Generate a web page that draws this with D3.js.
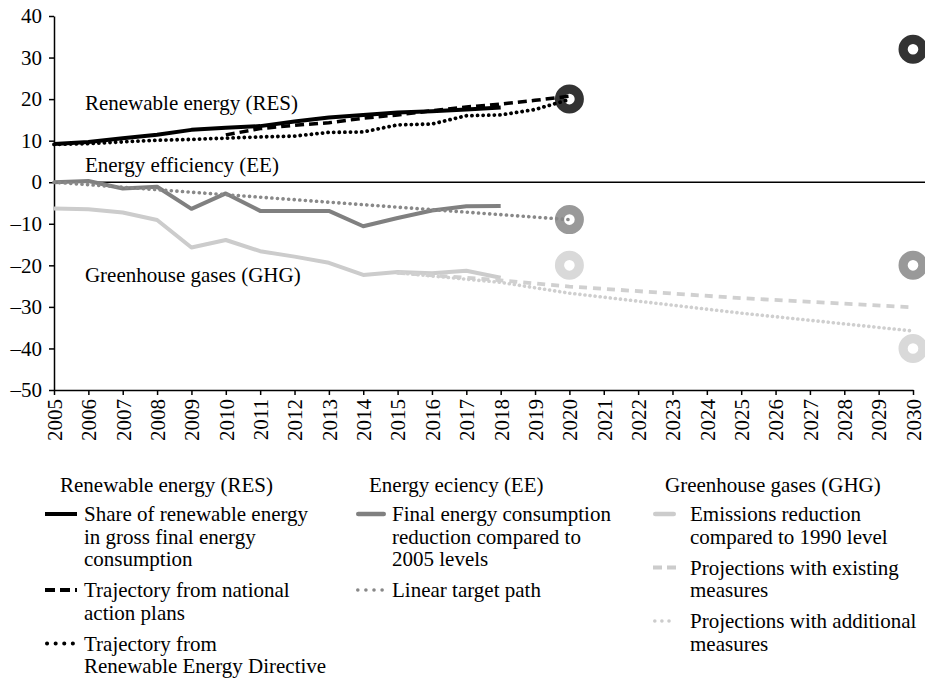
<!DOCTYPE html>
<html>
<head>
<meta charset="utf-8">
<script src="https://cdn.jsdelivr.net/npm/d3@7"></script>
<style>
  body { margin: 0; background: #fff; }
  svg { font-family: "Liberation Serif", "Times New Roman", serif; }
  .axis text { font-size: 21px; fill: #000; font-family: "Liberation Serif", serif; }
  .axis path, .axis line { stroke: #000; stroke-width: 1.5; }
</style>
</head>
<body>
<svg id="chart"></svg>
<script>
// data
const yearTicks = [2005, 2006, 2007, 2008, 2009, 2010, 2011, 2012, 2013, 2014, 2015, 2016, 2017,
  2018, 2019, 2020, 2021, 2022, 2023, 2024, 2025, 2026, 2027, 2028, 2029, 2030];
const valueTicks = [-50, -40, -30, -20, -10, 0, 10, 20, 30, 40];

const histYears = [2005, 2006, 2007, 2008, 2009, 2010, 2011, 2012, 2013, 2014, 2015, 2016, 2017, 2018];
const resShare = [9.2, 9.7, 10.6, 11.4, 12.6, 13.1, 13.5, 14.6, 15.6, 16.2, 16.8, 17.1, 17.5, 18.0];
const napYears = [2010, 2011, 2012, 2013, 2014, 2015, 2016, 2017, 2018, 2019, 2020];
const resNap = [11.4, 12.9, 13.7, 14.3, 15.4, 16.2, 17.2, 18.1, 18.8, 19.7, 20.7];
const redYears = [2005, 2006, 2007, 2008, 2009, 2010, 2011, 2012, 2013, 2014, 2015, 2016, 2017, 2018, 2019, 2020];
const resRed = [9.1, 9.3, 9.7, 10.1, 10.3, 10.6, 10.9, 11.1, 12.0, 12.1, 13.8, 14.0, 16.0, 16.2, 17.5, 19.9];

const eeFinal = [0, 0.3, -1.5, -1.1, -6.4, -2.7, -6.9, -6.9, -6.9, -10.6, -8.6, -6.8, -5.8, -5.7];
const eeLinearYears = [2005, 2020];
const eeLinear = [0, -9];

const ghgEmissions = [-6.3, -6.5, -7.3, -9.1, -15.7, -13.9, -16.6, -17.9, -19.4, -22.3, -21.6, -21.9, -21.3, -23.0];
const projYears = [2015, 2018, 2020, 2025, 2030];
const ghgExisting = [-21.8, -23.6, -25.1, -27.9, -30.1];
const ghgAdditional = [-21.8, -24.1, -26.7, -31.5, -35.8];

const targetYears = [2020, 2030];
const resTargets = [20, 32];
const eeTargets = [-9, -20];
const ghgTargets = [-20, -40];

const svgWidth = 925;
const svgHeight = 679;
const margin = {top: 16, left: 54, right: 12};
const plotBottom = 390;

const svg = d3.select('#chart')
  .attr('width', svgWidth)
  .attr('height', svgHeight);

const x = d3.scaleLinear()
  .domain([2005, 2030])
  .range([margin.left, 913]);

const y = d3.scaleLinear()
  .domain([-50, 40])
  .range([plotBottom, margin.top]);

const minus = d => d < 0 ? '\u2013' + Math.abs(d) : String(d);

// axes
svg.append('g')
  .attr('class', 'axis')
  .attr('transform', 'translate(' + margin.left + ',0)')
  .call(d3.axisLeft(y).tickValues(valueTicks).tickFormat(minus).tickSize(5).tickSizeOuter(0).tickPadding(7));

svg.append('g')
  .attr('class', 'axis')
  .attr('transform', 'translate(0,' + plotBottom + ')')
  .call(d3.axisBottom(x).tickValues(yearTicks).tickFormat(d3.format('d')).tickSize(5).tickSizeOuter(0))
  .selectAll('text')
  .attr('transform', 'rotate(-90)')
  .attr('x', -9)
  .attr('y', 0)
  .attr('dy', '0.35em')
  .style('text-anchor', 'end');

// zero line
svg.append('line')
  .attr('x1', margin.left).attr('x2', svgWidth)
  .attr('y1', y(0)).attr('y2', y(0))
  .attr('stroke', '#000').attr('stroke-width', 1.6);

// target rings
const rings = [
  {vals: resTargets, color: '#333333'},
  {vals: eeTargets, color: '#999999'},
  {vals: ghgTargets, color: '#d9d9d9'}
];
rings.forEach(r => {
  svg.selectAll(null)
    .data(targetYears.map((yr, i) => [yr, r.vals[i]]))
    .enter()
    .append('circle')
    .attr('cx', d => x(d[0]))
    .attr('cy', d => y(d[1]))
    .attr('r', 9.9)
    .attr('fill', '#fff')
    .attr('stroke', r.color)
    .attr('stroke-width', 9.2);
});

const line = d3.line().x(d => x(d[0])).y(d => y(d[1]));
const zip = (xs, vs) => xs.map((yr, i) => [yr, vs[i]]);

const series = [
  {pts: zip(histYears, ghgEmissions), color: '#cccccc', width: 4},
  {pts: zip(projYears, ghgExisting), color: '#d0d0d0', width: 3.8, dash: '8,6'},
  {pts: zip(projYears, ghgAdditional), color: '#cfcfcf', width: 3.6, dash: '0.1,5', cap: 'round'},
  {pts: zip(histYears, eeFinal), color: '#808080', width: 4},
  {pts: zip(eeLinearYears, eeLinear), color: '#888888', width: 3.6, dash: '0.1,5.5', cap: 'round'},
  {pts: zip(redYears, resRed), color: '#000', width: 3.8, dash: '0.1,5.5', cap: 'round'},
  {pts: zip(napYears, resNap), color: '#000', width: 3.5, dash: '9,5'},
  {pts: zip(histYears, resShare), color: '#000', width: 4}
];

series.forEach(s => {
  svg.append('path')
    .attr('d', line(s.pts))
    .attr('fill', 'none')
    .attr('stroke', s.color)
    .attr('stroke-width', s.width)
    .attr('stroke-dasharray', s.dash || null)
    .attr('stroke-linecap', s.cap || 'butt')
    .attr('stroke-linejoin', 'round');
});

// inline labels
const inlineLabels = [
  {text: 'Renewable energy (RES)', year: 2005.9, value: 17.4},
  {text: 'Energy efficiency (EE)', year: 2005.9, value: 2.5},
  {text: 'Greenhouse gases (GHG)', year: 2005.9, value: -24}
];
svg.selectAll('.inline')
  .data(inlineLabels)
  .enter()
  .append('text')
  .attr('class', 'inline')
  .attr('x', d => x(d.year))
  .attr('y', d => y(d.value))
  .attr('font-size', 21)
  .text(d => d.text);

// legend
const legendCols = [
  {title: 'Renewable energy (RES)', x: 45, tx: 60, sw: 32, gap: 7, items: [
    {lines: ['Share of renewable energy', 'in gross final energy', 'consumption'], color: '#000', width: 4},
    {lines: ['Trajectory from national', 'action plans'], color: '#000', width: 4, dash: '10,5'},
    {lines: ['Trajectory from', 'Renewable Energy Directive'], color: '#000', width: 4, dash: '0.1,8.5', cap: 'round'}
  ]},
  {title: 'Energy eciency (EE)', x: 356, tx: 369, sw: 30, gap: 6, items: [
    {lines: ['Final energy consumption', 'reduction compared to', '2005 levels'], color: '#808080', width: 4.5, cap: 'round'},
    {lines: ['Linear target path'], color: '#888888', width: 3.5, dash: '0.1,8', cap: 'round'}
  ]},
  {title: 'Greenhouse gases (GHG)', x: 653, tx: 665, sw: 23, gap: 14, items: [
    {lines: ['Emissions reduction', 'compared to 1990 level'], color: '#cccccc', width: 4.5, cap: 'round'},
    {lines: ['Projections with existing', 'measures'], color: '#cccccc', width: 4, dash: '9,5'},
    {lines: ['Projections with additional', 'measures'], color: '#cccccc', width: 3.5, dash: '0.1,7', cap: 'round'}
  ]}
];

const lineH = 22.5;
legendCols.forEach(col => {
  const g = svg.append('g');
  g.append('text')
    .attr('x', col.tx)
    .attr('y', 492)
    .attr('font-size', 21)
    .text(col.title);
  let base = 521;
  col.items.forEach(item => {
    const cap = item.cap || 'butt';
    const pad = cap === 'round' ? item.width / 2 : 0;
    g.append('line')
      .attr('x1', col.x + pad).attr('x2', col.x + col.sw - pad)
      .attr('y1', base - 7).attr('y2', base - 7)
      .attr('stroke', item.color)
      .attr('stroke-width', item.width)
      .attr('stroke-dasharray', item.dash || null)
      .attr('stroke-linecap', cap);
    const tx = col.x + col.sw + col.gap;
    const t = g.append('text')
      .attr('x', tx)
      .attr('y', base)
      .attr('font-size', 21);
    item.lines.forEach((ln, i) => {
      t.append('tspan')
        .attr('x', tx)
        .attr('dy', i === 0 ? 0 : lineH)
        .text(ln);
    });
    base += (item.lines.length - 1) * lineH + 31;
  });
});
</script>
</body>
</html>
